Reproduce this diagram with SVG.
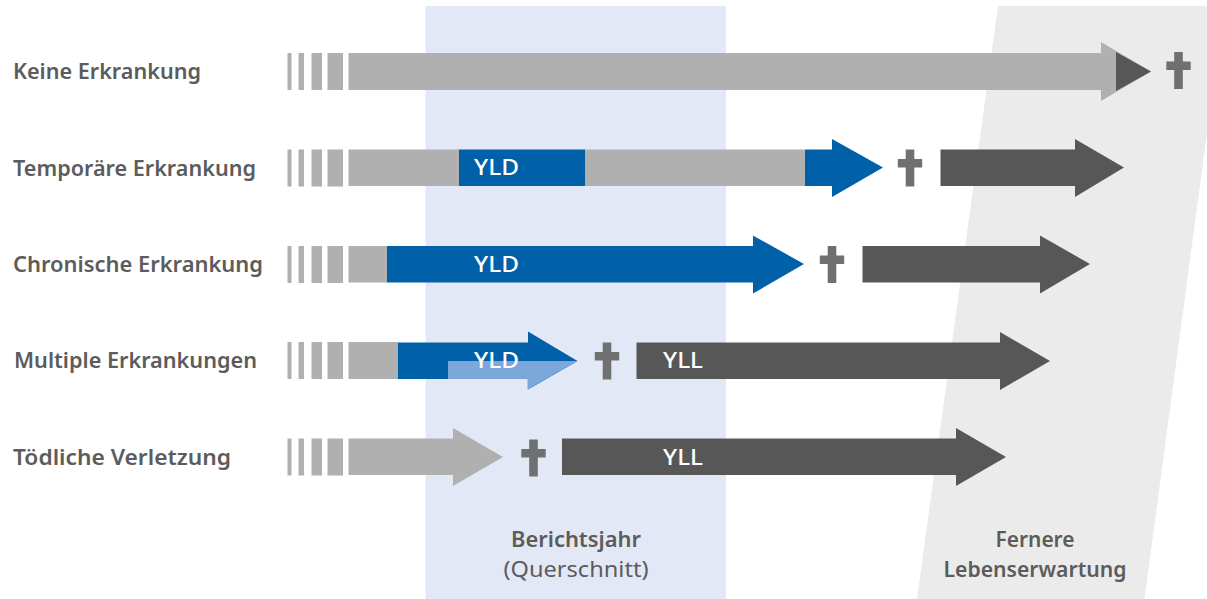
<svg xmlns="http://www.w3.org/2000/svg" width="1207" height="599" viewBox="0 0 1207 599">
<style>
.g{fill:#b0b0b0}.b{fill:#0060a8}.d{fill:#575757}.x{fill:#707070}.l{fill:#7ba7da}
text{font-family:"Noto Sans","Open Sans","Liberation Sans",sans-serif}
.lab{font-size:22px;font-weight:600;fill:#5c5c5c}
.in{font-size:22px;font-weight:500;fill:#fff}
.cap{font-size:22px;fill:#5c5c5c;text-anchor:middle}
</style>
<defs>
<g id="st" class="g"><rect x="287.5" width="4" height="37"/><rect x="298.5" width="5.5" height="37"/><rect x="311.5" width="10.500" height="37"/><rect x="327.500" width="15.500" height="37"/></g>
<path id="cr" class="x" d="M-4.300-18.500H4.300V-9H12.200V-.5H4.300V18.500H-4.300V-.5H-12.200V-9H-4.300Z"/>
</defs>
<g id="bands">
<rect id="berichtsjahr-band" x="425.500" y="6" width="300.500" height="593" fill="#e3e8f6"/>
<path id="lebenserwartung-band" d="M998 6H1207V133L1144.500 599H917Z" fill="#ebebeb"/>
</g>
<g id="row-keine">
<text class="lab" x="13" y="79" textLength="188" lengthAdjust="spacingAndGlyphs">Keine Erkrankung</text>
<use href="#st" y="53"/>
<path class="g" d="M348.500 53H1101V42L1151 71.500L1101 101V90H348.500Z"/>
<path class="d" d="M1116 52L1151 71.500L1116 91Z"/>
<use href="#cr" x="1178.500" y="70.500"/>
</g>
<g id="row-temporaer">
<text class="lab" x="13" y="176" textLength="243" lengthAdjust="spacingAndGlyphs">Temporäre Erkrankung</text>
<use href="#st" y="149.500"/>
<rect class="g" x="348.500" y="149.500" width="110.500" height="36.500"/>
<rect class="b" x="459" y="149.500" width="126" height="36.500"/>
<rect class="g" x="585" y="149.500" width="220" height="36.500"/>
<path class="b" d="M805 149.500H832V139L883 167.500L832 197V186H805Z"/>
<text class="in" x="474" y="175" textLength="45" lengthAdjust="spacingAndGlyphs">YLD</text>
<use href="#cr" x="910" y="168"/>
<path class="d" d="M940.500 149.500H1075V139L1124 167.500L1075 197V186H940.500Z"/>
</g>
<g id="row-chronisch">
<text class="lab" x="13" y="272" textLength="250" lengthAdjust="spacingAndGlyphs">Chronische Erkrankung</text>
<use href="#st" y="246"/>
<rect class="g" x="348.500" y="246" width="38.500" height="36.500"/>
<path class="b" d="M387 246H753V235.500L804 264L753 293.500V282.500H387Z"/>
<text class="in" x="474" y="271.500" textLength="45" lengthAdjust="spacingAndGlyphs">YLD</text>
<use href="#cr" x="832" y="264.500"/>
<path class="d" d="M862.500 246H1040V235.500L1090 264L1040 293.500V282.500H862.500Z"/>
</g>
<g id="row-multipel">
<text class="lab" x="14" y="368" textLength="243" lengthAdjust="spacingAndGlyphs">Multiple Erkrankungen</text>
<use href="#st" y="342"/>
<rect class="g" x="348.500" y="342" width="49.500" height="37"/>
<path class="b" d="M398 342.500H528V331.500L577.500 361L528 389.500V379H398Z"/>
<path class="l" d="M448 361H577.500L527.500 389.500V379H448Z"/>
<text class="in" x="474" y="368.300" textLength="45" lengthAdjust="spacingAndGlyphs">YLD</text>
<use href="#cr" x="607" y="361"/>
<path class="d" d="M636.500 342.500H1000V332L1050 361L1000 390V379H636.500Z"/>
<text class="in" x="663" y="368.300" textLength="40" lengthAdjust="spacingAndGlyphs">YLL</text>
</g>
<g id="row-toedlich">
<text class="lab" x="13" y="465" textLength="218" lengthAdjust="spacingAndGlyphs">Tödliche Verletzung</text>
<use href="#st" y="438.500"/>
<path class="g" d="M348.500 438.500H453V428L503 457L453 486V475H348.500Z"/>
<use href="#cr" x="533.500" y="458"/>
<path class="d" d="M562 438.500H956V428L1006 457L956 486V475H562Z"/>
<text class="in" x="663" y="465" textLength="40" lengthAdjust="spacingAndGlyphs">YLL</text>
</g>
<g id="captions">
<text class="cap" x="576" y="547" font-weight="600" textLength="130" lengthAdjust="spacingAndGlyphs">Berichtsjahr</text>
<text class="cap" x="576" y="577" textLength="145" lengthAdjust="spacingAndGlyphs">(Querschnitt)</text>
<text class="cap" x="1035" y="547" font-weight="600" textLength="79" lengthAdjust="spacingAndGlyphs">Fernere</text>
<text class="cap" x="1035" y="577" font-weight="600" textLength="183" lengthAdjust="spacingAndGlyphs">Lebenserwartung</text>
</g>
</svg>
